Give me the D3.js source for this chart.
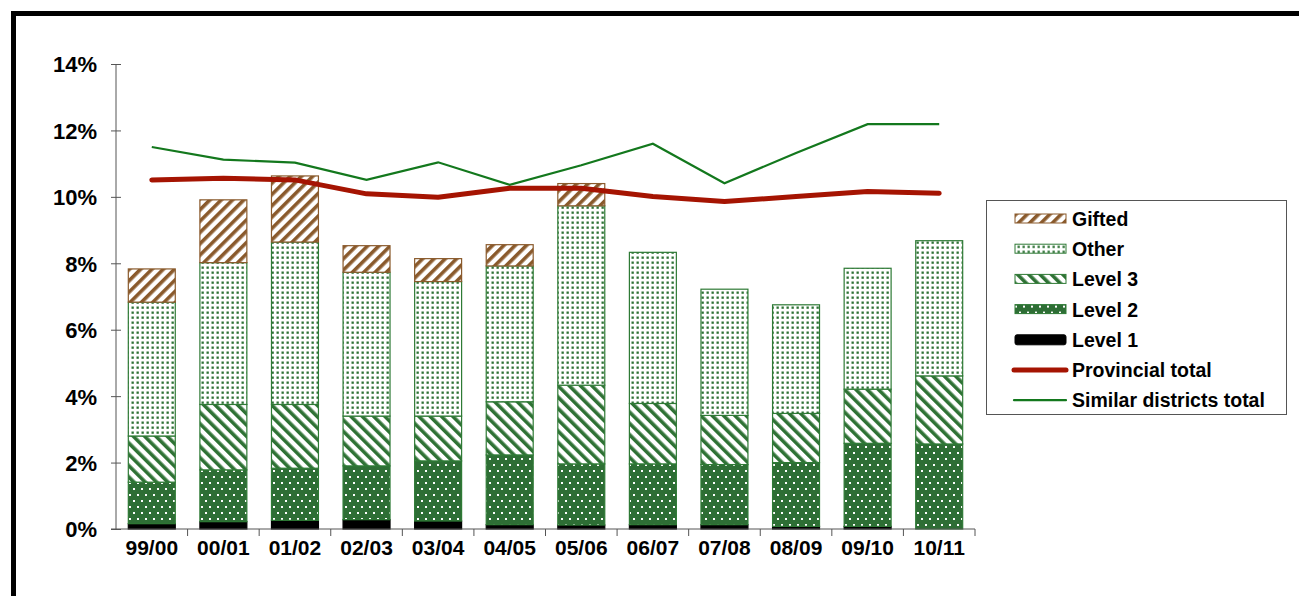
<meta charset="utf-8">
<style>
body { margin: 0; background: #fff; }
text { font-family: "Liberation Sans", Helvetica, Arial, sans-serif; font-weight: bold; fill: #000; }
.axis path, .axis line { stroke: #555; }
</style>
<body>
<script src="https://cdnjs.cloudflare.com/ajax/libs/d3/7.8.5/d3.min.js"></script>
<script>

var years = ["99/00","00/01","01/02","02/03","03/04","04/05","05/06","06/07","07/08","08/09","09/10","10/11"];

// stacked shares, % of students
var level1 = [0.16, 0.22, 0.26, 0.28, 0.24, 0.13, 0.12, 0.13, 0.13, 0.08, 0.08, 0.00];
var level2 = [1.25, 1.56, 1.57, 1.62, 1.81, 2.10, 1.84, 1.83, 1.81, 1.92, 2.50, 2.56];
var level3 = [1.39, 1.97, 1.92, 1.50, 1.35, 1.60, 2.37, 1.82, 1.48, 1.48, 1.63, 2.05];
var other  = [4.03, 4.27, 4.89, 4.33, 4.05, 4.09, 5.40, 4.55, 3.80, 3.27, 3.64, 4.07];
var gifted = [1.00, 1.89, 1.99, 0.80, 0.69, 0.64, 0.67, 0.00, 0.00, 0.00, 0.00, 0.00];

var provincial = [10.51, 10.56, 10.51, 10.09, 9.99, 10.26, 10.26, 10.01, 9.86, 10.01, 10.16, 10.11];
var similar    = [11.50, 11.12, 11.03, 10.51, 11.04, 10.36, 10.95, 11.60, 10.41, 11.32, 12.19, 12.19];

var yTicks = [0, 2, 4, 6, 8, 10, 12, 14];

var width = 1299, height = 596;

var svg = d3.select("body").append("svg")
    .attr("width", width)
    .attr("height", height);

// patterns
var defs = svg.append("defs");

var pg = defs.append("pattern").attr("id","p-gifted").attr("patternUnits","userSpaceOnUse")
    .attr("width",8).attr("height",8).attr("patternTransform","rotate(45)");
pg.append("rect").attr("width",8).attr("height",8).attr("fill","#fff");
pg.append("rect").attr("width",3.6).attr("height",8).attr("fill","#8a5a2c");

var p3 = defs.append("pattern").attr("id","p-level3").attr("patternUnits","userSpaceOnUse")
    .attr("width",8).attr("height",8).attr("patternTransform","rotate(-45)");
p3.append("rect").attr("width",8).attr("height",8).attr("fill","#fff");
p3.append("rect").attr("width",3.6).attr("height",8).attr("fill","#2f7235");

var po = defs.append("pattern").attr("id","p-other").attr("patternUnits","userSpaceOnUse")
    .attr("width",5).attr("height",5);
po.append("rect").attr("width",5).attr("height",5).attr("fill","#fff");
po.append("rect").attr("x",1.5).attr("y",1.5).attr("width",2.3).attr("height",2.3).attr("fill","#2e7235");

var p2 = defs.append("pattern").attr("id","p-level2").attr("patternUnits","userSpaceOnUse")
    .attr("width",8).attr("height",12);
p2.append("rect").attr("width",8).attr("height",12).attr("fill","#2e6e35");
p2.append("rect").attr("x",1).attr("y",2).attr("width",2).attr("height",2).attr("fill","#fff");
p2.append("rect").attr("x",5).attr("y",8).attr("width",2).attr("height",2).attr("fill","#fff");

// frame
svg.append("rect")
    .attr("x",13.5).attr("y",13.5)
    .attr("width",1400).attr("height",700)
    .attr("fill","none").attr("stroke","#000").attr("stroke-width",5);

var x = d3.scaleBand().domain(years).range([116, 975]).paddingInner(0.33).paddingOuter(0.165);
var y = d3.scaleLinear().domain([0, 14]).range([529, 64]);

var series = [
  {name:"Level 1", values:level1, fill:"#000", stroke:"#000"},
  {name:"Level 2", values:level2, fill:"url(#p-level2)", stroke:"#2e7a35"},
  {name:"Level 3", values:level3, fill:"url(#p-level3)", stroke:"#2e7a35"},
  {name:"Other",   values:other,  fill:"url(#p-other)",  stroke:"#2e7a35"},
  {name:"Gifted",  values:gifted, fill:"url(#p-gifted)", stroke:"#8a5a2c"}
];

var rows = years.map(function(yr, i) {
  var r = {year: yr};
  series.forEach(function(s) { r[s.name] = s.values[i]; });
  return r;
});
var stack = d3.stack().keys(series.map(function(s){ return s.name; }))(rows);

stack.forEach(function(layer, li) {
  var s = series[li];
  svg.append("g").selectAll("rect")
      .data(layer.filter(function(d){ return d[1] - d[0] > 0; }))
    .enter().append("rect")
      .attr("x", function(d){ return x(d.data.year) + 0.5; })
      .attr("y", function(d){ return y(d[1]); })
      .attr("width", x.bandwidth() - 1)
      .attr("height", function(d){ return y(d[0]) - y(d[1]); })
      .attr("fill", s.fill)
      .attr("stroke", s.stroke)
      .attr("stroke-width", 1.2);
});

// axes
var yAxis = svg.append("g").attr("class","axis")
    .attr("transform","translate(116,0)")
    .call(d3.axisLeft(y).tickValues(yTicks).tickSize(5).tickPadding(14)
      .tickFormat(function(d){ return d + "%"; }));
yAxis.attr("font-size", null).attr("font-family", null);
yAxis.select(".domain").remove();
yAxis.append("line").attr("x1",0).attr("x2",0).attr("y1",y(14)).attr("y2",y(0)).attr("stroke","#555");
yAxis.selectAll(".tick line").attr("x1",5).attr("x2",-5);
yAxis.selectAll("text").style("font-size","22px").attr("dy","0.36em");

var xAxis = svg.append("g").attr("class","axis")
    .attr("transform","translate(0,529)")
    .call(d3.axisBottom(x).tickSize(0).tickPadding(10));
xAxis.attr("font-size", null).attr("font-family", null);
xAxis.select(".domain").remove();
xAxis.append("line").attr("x1",111).attr("x2",975).attr("stroke","#555");
xAxis.selectAll("text").style("font-size","21px").attr("dy","0.78em");
xAxis.selectAll(".bnd")
    .data(years.slice(1).concat([null]))
  .enter().append("line")
    .attr("x1", function(d,i){ return 116 + x.step() * (i+1); })
    .attr("x2", function(d,i){ return 116 + x.step() * (i+1); })
    .attr("y1", 0).attr("y2", 7)
    .attr("stroke","#555");

// lines
var line = d3.line()
    .x(function(d,i){ return x(years[i]) + x.bandwidth()/2; })
    .y(function(d){ return y(d); });

svg.append("path").datum(similar)
    .attr("d", line)
    .attr("fill","none").attr("stroke","#13781d").attr("stroke-width",2.2);

svg.append("path").datum(provincial)
    .attr("d", line)
    .attr("fill","none").attr("stroke","#a51402").attr("stroke-width",5)
    .attr("stroke-linecap","round").attr("stroke-linejoin","round");

// legend
var legend = svg.append("g").attr("transform","translate(986,200)");
legend.append("rect").attr("x",0.5).attr("y",0.5).attr("width",300).attr("height",214)
    .attr("fill","#fff").attr("stroke","#555");

var legendItems = [
  {name:"Gifted", type:"bar", fill:"url(#p-gifted)", stroke:"#8a5a2c"},
  {name:"Other", type:"bar", fill:"url(#p-other)", stroke:"#2e7a35"},
  {name:"Level 3", type:"bar", fill:"url(#p-level3)", stroke:"#2e7a35"},
  {name:"Level 2", type:"bar", fill:"url(#p-level2)", stroke:"#2e7a35"},
  {name:"Level 1", type:"bar", fill:"#000", stroke:"#000"},
  {name:"Provincial total", type:"line", stroke:"#a51402", w:5},
  {name:"Similar districts total", type:"line", stroke:"#13781d", w:2.2}
];

var li = legend.selectAll(".li").data(legendItems).enter().append("g")
    .attr("transform", function(d,i){ return "translate(0," + (19 + i*30.2) + ")"; });

li.filter(function(d){ return d.type == "bar"; }).append("rect")
    .attr("x",29).attr("y",-5).attr("width",51)
    .attr("height", function(d){ return d.name == "Level 1" ? 10 : 9; })
    .attr("fill", function(d){ return d.fill; })
    .attr("stroke", function(d){ return d.stroke; })
    .attr("rx", function(d){ return d.name == "Level 1" ? 2 : 0; });

li.filter(function(d){ return d.type == "line"; }).append("line")
    .attr("x1",28).attr("x2",80).attr("y1",0).attr("y2",0)
    .attr("stroke", function(d){ return d.stroke; })
    .attr("stroke-width", function(d){ return d.w; })
    .attr("stroke-linecap","round");

li.append("text").attr("x",86).attr("y",0).attr("dy","0.36em")
    .style("font-size","19.5px")
    .text(function(d){ return d.name; });

</script>
